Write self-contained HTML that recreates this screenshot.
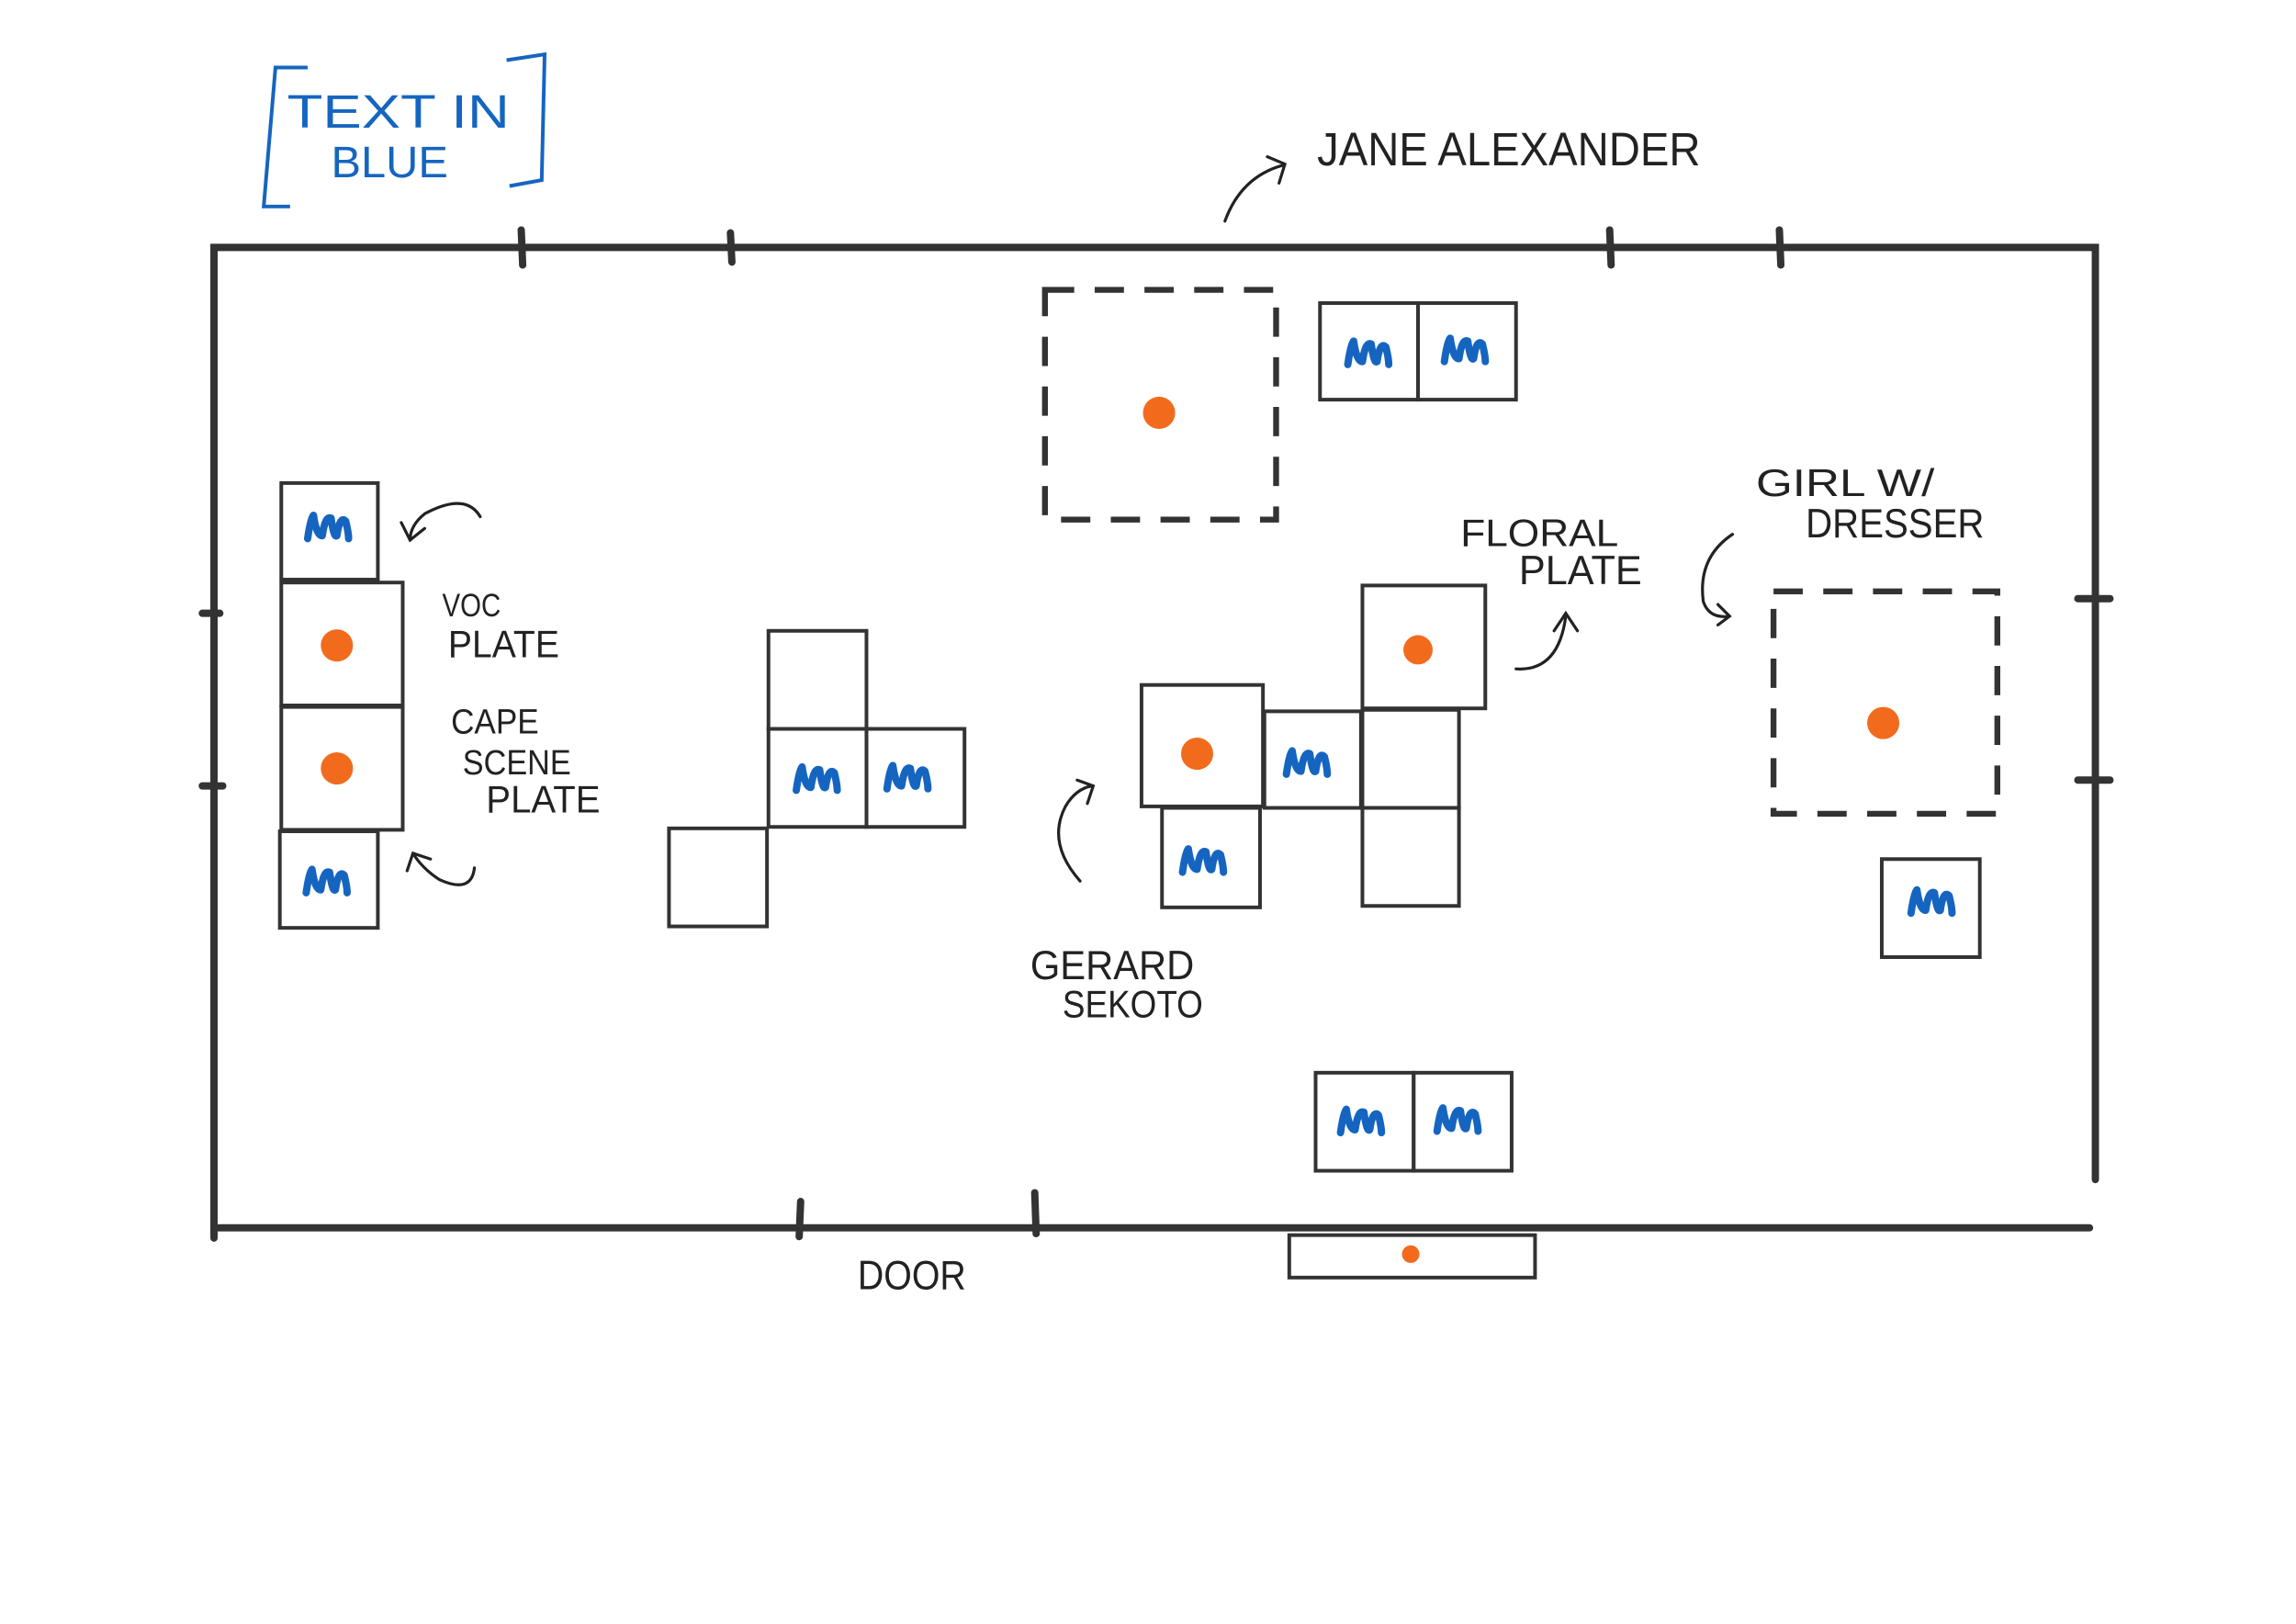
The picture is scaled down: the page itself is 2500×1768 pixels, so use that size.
<!DOCTYPE html>
<html><head><meta charset="utf-8"><style>
html,body{margin:0;padding:0;background:#fff;}
svg{display:block;}
text{font-family:"Liberation Sans",sans-serif;font-weight:300;fill:#222;}
.b{fill:#1565c0;}
</style></head><body>
<svg width="2500" height="1768" viewBox="0 0 1560 1103" xmlns="http://www.w3.org/2000/svg">
<defs>
<path id="m" d="M-14 8 Q-12 -6 -10 -8 Q-8 6 -4 6 Q-2 -8 2 -6 Q4 8 6 6 Q8 -8 12 -4 Q14 4 14 8" fill="none" stroke="#1565c0" stroke-width="5" stroke-linecap="round" stroke-linejoin="round"/>
</defs>
<g transform="translate(145.4,168) scale(0.994) translate(-146,-168)">
<g fill="none" stroke="#333" stroke-width="5" stroke-linecap="round">
<path d="M146 845 L146 168 L1432 168 L1432 805"/>
<path d="M146 838 L1428 838"/>
<path d="M356 156 L357 180 M499 158 L500 178 M1100 156 L1101 180 M1216 156 L1217 180"/>
<path d="M138 418 L150 418 M138 536 L152 536 M1420 408 L1442 408 M1420 532 L1442 532"/>
<path d="M547 820 L546 844 M707 814 L708 842"/>
</g>
<g fill="none" stroke="#333" stroke-width="2.5">
<rect x="192" y="329" width="66" height="66"/>
<rect x="192" y="397" width="83" height="84"/>
<rect x="192" y="482" width="83" height="84"/>
<rect x="191" y="567" width="67" height="66"/>
<rect x="525" y="430" width="67" height="67"/>
<rect x="525" y="497" width="67" height="67"/>
<rect x="592" y="497" width="67" height="67"/>
<rect x="457" y="565" width="67" height="67"/>
<rect x="780" y="467" width="83" height="83"/>
<rect x="864" y="485" width="66" height="66"/>
<rect x="794" y="551" width="67" height="68"/>
<rect x="931" y="399" width="84" height="84"/>
<rect x="931" y="484" width="66" height="67"/>
<rect x="931" y="551" width="66" height="67"/>
<rect x="902" y="206" width="67" height="66"/>
<rect x="969" y="206" width="67" height="66"/>
<rect x="1286" y="586" width="67" height="67"/>
<rect x="899" y="732" width="67" height="67"/>
<rect x="966" y="732" width="67" height="67"/>
<rect x="881" y="843" width="168" height="29"/>
</g>
<g fill="none" stroke="#333" stroke-width="4" stroke-dasharray="20 14">
<rect x="714" y="197" width="158" height="157"/>
<rect x="1212" y="403" width="153" height="152"/>
</g>
<g fill="#f26b1d">
<circle cx="792" cy="281" r="11"/>
<circle cx="230" cy="440" r="11"/>
<circle cx="230" cy="524" r="11"/>
<circle cx="818" cy="514" r="11"/>
<circle cx="969" cy="443" r="10"/>
<circle cx="1287" cy="493" r="11"/>
<circle cx="964" cy="856" r="6"/>
</g>
<use href="#m" x="224" y="359"/>
<use href="#m" x="223" y="601"/>
<use href="#m" x="558" y="531"/>
<use href="#m" x="620" y="530"/>
<use href="#m" x="893" y="520"/>
<use href="#m" x="822" y="587"/>
<use href="#m" x="935" y="240"/>
<use href="#m" x="1001" y="238"/>
<use href="#m" x="1320" y="615"/>
<use href="#m" x="930" y="765"/>
<use href="#m" x="996" y="764"/>
<g fill="none" stroke="#222" stroke-width="2" stroke-linecap="round">
<path d="M837 150 Q848 120 876 112 M866 106 L878 111 L874 124"/>
<path d="M328 352 Q318 335 290 350 Q280 358 280 368 M274 356 L280 368 L290 360"/>
<path d="M324 592 Q322 610 300 600 Q288 592 282 582 M278 594 L282 582 L294 586"/>
<path d="M738 601 Q715 575 728 550 Q735 538 746 536 M736 532 L747 536 L743 548"/>
<path d="M1036 456 Q1065 458 1070 420 M1062 430 L1070 418 L1078 430"/>
<path d="M1184 364 Q1160 380 1164 410 Q1168 422 1182 420 M1174 412 L1182 420 L1174 426"/>
</g>
<path d="M210 45 L188 45 L180 140 L198 140 M346 40 L372 36 L370 122 L348 126" fill="none" stroke="#1565c0" stroke-width="2.5"/>
<text class="b" x="196" y="86" font-size="32" textLength="152" lengthAdjust="spacingAndGlyphs">TEXT IN</text>
<text class="b" x="226" y="120" font-size="30" textLength="80" lengthAdjust="spacingAndGlyphs">BLUE</text>
<text x="900" y="112" font-size="32" textLength="262" lengthAdjust="spacingAndGlyphs">JANE ALEXANDER</text>
<text x="302" y="420" font-size="22" textLength="40" lengthAdjust="spacingAndGlyphs">VOC</text>
<text x="306" y="448" font-size="26" textLength="76" lengthAdjust="spacingAndGlyphs">PLATE</text>
<text x="308" y="500" font-size="24" textLength="60" lengthAdjust="spacingAndGlyphs">CAPE</text>
<text x="316" y="528" font-size="24" textLength="74" lengthAdjust="spacingAndGlyphs">SCENE</text>
<text x="332" y="554" font-size="26" textLength="78" lengthAdjust="spacingAndGlyphs">PLATE</text>
<text x="998" y="372" font-size="26" textLength="108" lengthAdjust="spacingAndGlyphs">FLORAL</text>
<text x="1038" y="398" font-size="28" textLength="84" lengthAdjust="spacingAndGlyphs">PLATE</text>
<text x="1200" y="338" font-size="26" textLength="122" lengthAdjust="spacingAndGlyphs">GIRL W/</text>
<text x="1234" y="366" font-size="28" textLength="122" lengthAdjust="spacingAndGlyphs">DRESSER</text>
<text x="704" y="668" font-size="28" textLength="112" lengthAdjust="spacingAndGlyphs">GERARD</text>
<text x="726" y="694" font-size="26" textLength="96" lengthAdjust="spacingAndGlyphs">SEKOTO</text>
<text x="586" y="880" font-size="28" textLength="74" lengthAdjust="spacingAndGlyphs">DOOR</text>
</g>
</svg>
</body></html>
